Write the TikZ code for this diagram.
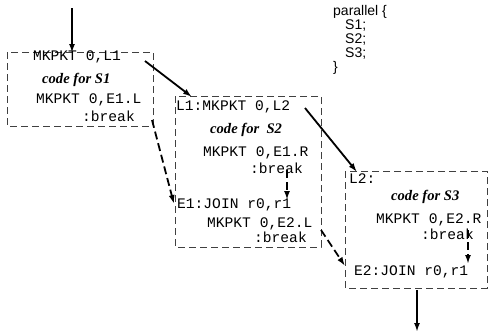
\documentclass[tikz,border=0pt]{standalone}
\usepackage{fontspec}
\setmainfont{Liberation Serif}
\setsansfont{Liberation Sans}
\setmonofont{Liberation Mono}
\usetikzlibrary{arrows.meta}
\begin{document}
\begin{tikzpicture}[x=1pt,y=-1pt,
  dbox/.style={draw=black!75, line width=0.7pt, dash pattern=on 7pt off 4pt},
  code/.style={anchor=west, inner sep=0pt, font=\ttfamily\fontsize{14.6}{16}\selectfont},
  cmt/.style={anchor=west, inner sep=0pt, font=\bfseries\itshape\fontsize{14.6}{17}\selectfont},
  flow/.style={line width=1.8pt, -{Latex[length=9pt,width=6pt]}},
  dflow/.style={line width=1.8pt, dash pattern=on 8pt off 4pt, -{Latex[length=9pt,width=6pt]}}
]
\useasboundingbox (0,0) rectangle (490,333);
% boxes
\draw[dbox] (7,52) rectangle (153,126);
\draw[dbox] (175,96) rectangle (321,247);
\draw[dbox] (345,171) rectangle (487,288);
% texts box 1
\node[code] (t1) at (33,57) {MKPKT 0,L1};
\node[cmt]  (c1) at (42,80) {code for S1};
\node[code] (m1) at (36,100) {MKPKT 0,E1.L};
\node[code] (k1) at (82,116) {:break};
% box 2
\node[code] (t2) at (176,107) {L1:MKPKT 0,L2};
\node[cmt]  (c2) at (210,130) {code for\ \ S2};
\node[code] (m2) at (203,153) {MKPKT 0,E1.R};
\node[code] (k2) at (250,168) {:break};
\node[code] (j1) at (177,205) {E1:JOIN r0,r1};
\node[code] (m3) at (207,224) {MKPKT 0,E2.L};
\node[code] (k3) at (254,237) {:break};
% box 3
\node[code] (t3) at (349,179) {L2:};
\node[cmt]  (c3) at (391,197) {code for S3};
\node[code] (m4) at (376,220) {MKPKT 0,E2.R};
\node[code] (k4) at (421,234) {:break};
\node[code] (j2) at (354,272) {E2:JOIN r0,r1};
% parallel text
\node[anchor=north west, inner sep=0pt, align=left, font=\sffamily\fontsize{14}{14}\selectfont] (par) at (333,5)
  {parallel \{\\\hspace*{12pt}S1;\\\hspace*{12pt}S2;\\\hspace*{12pt}S3;\\\}};
% coordinates
\coordinate (in0) at (72,8);   \coordinate (in1) at (72,53);
\coordinate (a1s) at (145,61); \coordinate (a1e) at (192,97);
\coordinate (a2s) at (305,108);\coordinate (a2e) at (357,172);
\coordinate (d1s) at (152,120);\coordinate (d1e) at (174,204);
\coordinate (d2s) at (287,170);\coordinate (d2e) at (287,200);
\coordinate (d3s) at (321,230);\coordinate (d3e) at (345,266);
\coordinate (d4s) at (468,230);\coordinate (d4e) at (468,264);
\coordinate (o0) at (417,290); \coordinate (o1) at (417,332);
% arrows
\draw[flow] (in0) -- (in1);
\draw[flow] (a1s) -- (a1e);
\draw[flow] (a2s) -- (a2e);
\draw[dflow] (d1s) -- (d1e);
\draw[dflow] (d2s) -- (d2e);
\draw[dflow] (d3s) -- (d3e);
\draw[dflow] (d4s) -- (d4e);
\draw[flow] (o0) -- (o1);
\end{tikzpicture}
\end{document}
